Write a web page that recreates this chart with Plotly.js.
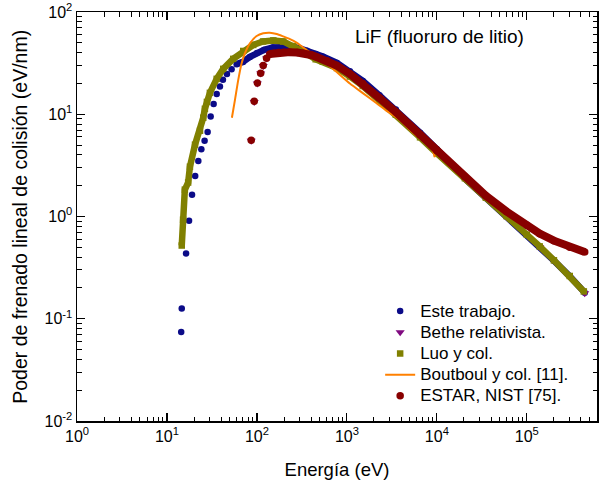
<!DOCTYPE html>
<html>
<head>
<meta charset="utf-8">
<script src="https://cdn.plot.ly/plotly-3.0.1.min.js"></script>
<style>html,body{margin:0;padding:0;background:#fff;}#chart{width:599px;height:488px;}</style>
</head>
<body>
<div id="chart"></div>
<script>
// ---- data (energy in eV, stopping power in eV/nm) ----
const blueSparseE = [14.4, 14.6, 16.3, 17.6, 19.0, 20.6, 22.3, 24.1, 26.2, 28.3, 30.6, 33.0, 35.7, 38.8, 41.9, 46.4, 52.3];
const blueSparseS = [0.074, 0.126, 0.435, 0.91, 1.63, 2.49, 3.49, 4.54, 5.5, 6.7, 9.5, 12.6, 15.8, 18.7, 21.7, 24.8, 27.6];
const blueE = [59.5, 70, 83.6, 100, 120, 150, 194, 251, 300, 359, 450, 541, 774, 1080, 1500, 2300, 3500, 6500, 1.0e4, 2.05e4, 3.5e4, 5.95e4, 1.0e5, 1.39e5, 2.0e5, 3.0e5, 4.4e5];
const blueS = [30.9, 32.5, 36.4, 39.8, 42.6, 45.0, 46.0, 45.6, 44.0, 41.8, 38.8, 36.6, 31.8, 26.3, 21.2, 15.3, 11.1, 6.6, 4.55, 2.35, 1.52, 1.0, 0.66, 0.505, 0.37, 0.26, 0.18];

const betheE = [86.4, 93.3, 101, 110, 117.5, 128, 139, 175, 233, 324, 461, 769, 1080, 2300, 6500, 2.05e4, 5.95e4, 1.39e5, 4.4e5];
const betheS = [5.5, 13.2, 20.0, 25.0, 29.7, 35.0, 38.6, 40.0, 40.3, 39.5, 36.2, 29.8, 24.6, 14.3, 6.2, 2.33, 0.99, 0.50, 0.178];

const oliveE = [14.6, 15.1, 15.8, 17.2, 18.0, 20.5, 23.3, 25.3, 26.4, 27.8, 30.0, 35.7, 42.2, 54.5, 70.4, 90.9, 117, 152, 196, 253, 327, 450, 541, 774, 1080, 1500, 2300, 3500, 6500, 1.0e4, 2.05e4, 3.5e4, 5.95e4, 1.0e5, 1.39e5, 2.0e5, 3.0e5, 4.3e5];
const oliveS = [0.52, 0.93, 1.83, 2.15, 3.07, 5.04, 6.9, 9.25, 11.3, 13.2, 16.2, 22.2, 27.8, 34.8, 41.6, 47.6, 51.5, 52.7, 51.5, 46.5, 41.0, 34.5, 32.6, 28.3, 23.4, 18.9, 13.6, 9.9, 5.95, 4.15, 2.37, 1.53, 1.01, 0.665, 0.51, 0.373, 0.262, 0.185];

const boutE = [52.7, 57, 62, 67.6, 73.6, 83.6, 99.3, 117.5, 139, 166, 196, 233, 276, 327, 647, 1080, 1518, 2138, 2762, 3882, 5455, 7043, 8356, 9100, 9500];
const boutS = [9.25, 13.8, 21.7, 31.6, 39.5, 49.5, 58.3, 62.0, 62.8, 61.0, 57.7, 54.2, 50.1, 45.0, 29.5, 20.0, 16.0, 12.8, 10.8, 8.8, 6.6, 5.5, 4.8, 4.3, 3.8];

const estarSparseE = [86.4, 93.3, 101, 110, 117.5, 128];
const estarSparseS = [5.58, 13.4, 20.2, 25.2, 29.9, 35.3];
const estarE = [139, 155, 175, 200, 233, 280, 324, 400, 461, 600, 769, 1080, 1500, 2300, 3500, 6500, 1.0e4, 2.05e4, 3.5e4, 5.95e4, 1.0e5, 1.39e5, 2.0e5, 3.0e5, 4.4e5];
const estarS = [38.9, 39.6, 40.2, 40.5, 40.5, 40.2, 39.6, 38.0, 36.3, 33.3, 30.0, 24.8, 20.0, 14.4, 10.5, 6.3, 4.4, 2.45, 1.60, 1.12, 0.82, 0.68, 0.58, 0.50, 0.45];

const xTickVals = [1, 10, 100, 1000, 10000, 100000];
const xTickText = ['10<sup>0</sup>', '10<sup>1</sup>', '10<sup>2</sup>', '10<sup>3</sup>', '10<sup>4</sup>', '10<sup>5</sup>'];
const yTickVals = [0.01, 0.1, 1, 10, 100];
const yTickText = ['10<sup>-2</sup>', '10<sup>-1</sup>', '10<sup>0</sup>', '10<sup>1</sup>', '10<sup>2</sup>'];

const names = ['Este trabajo.', 'Bethe relativista.', 'Luo y col.', 'Boutboul y col. [11].', 'ESTAR, NIST [75].'];
const xTitle = 'Energía (eV)';
const yTitle = 'Poder de frenado lineal de colisión (eV/nm)';
const panelLabel = 'LiF (fluoruro de litio)';

// ---- colours / styles ----
const cBlue = '#0b0b88', cPurple = '#800a80', cOlive = '#808000', cOrange = '#ff8000', cRed = '#880000';
const FONT = 'Liberation Sans, Arial, sans-serif';
const legName = s => '<span style="font-size:17px">' + s + '</span>';

function minorVals(lo, hi) {
  const v = [];
  for (let d = lo; d < hi; d++) for (let k = 2; k <= 9; k++) v.push(k * Math.pow(10, d));
  return v;
}

const traces = [
  {x: blueE, y: blueS, mode: 'lines', line: {color: cBlue, width: 6.5}, showlegend: false, hoverinfo: 'skip'},
  {x: blueSparseE.concat(blueE), y: blueSparseS.concat(blueS), mode: 'markers', name: legName(names[0]),
   marker: {symbol: 'circle', size: 6.5, color: cBlue}},
  {x: betheE, y: betheS, mode: 'markers', name: legName(names[1]),
   marker: {symbol: 'triangle-down', size: 8, color: cPurple}},
  {x: oliveE, y: oliveS, mode: 'lines', line: {color: cOlive, width: 6.5}, showlegend: false, hoverinfo: 'skip'},
  {x: oliveE, y: oliveS, mode: 'markers', name: legName(names[2]),
   marker: {symbol: 'square', size: 6.5, color: cOlive}},
  {x: boutE, y: boutS, mode: 'lines', name: legName(names[3]), line: {color: cOrange, width: 2, shape: 'spline', smoothing: 0.6}},
  {x: estarE, y: estarS, mode: 'lines', line: {color: cRed, width: 8}, showlegend: false, hoverinfo: 'skip'},
  {x: estarSparseE.concat(estarE), y: estarSparseS.concat(estarS), mode: 'markers', name: legName(names[4]),
   marker: {symbol: 'circle', size: 7.5, color: cRed}}
];

const axisCommon = {
  type: 'log', showgrid: false, zeroline: false, showline: true, linecolor: '#000', linewidth: 1.5,
  mirror: 'allticks', ticks: 'inside', ticklen: 8, tickwidth: 1.2, tickcolor: '#000',
  tickfont: {family: FONT, size: 16, color: '#000'},
  tickmode: 'array'
};

const layout = {
  width: 599, height: 488,
  margin: {l: 77, r: 2, t: 12, b: 67},
  paper_bgcolor: '#fff', plot_bgcolor: '#fff',
  font: {family: FONT, color: '#000'},
  showlegend: true,
  legend: {x: 0.583, y: 0.307, xanchor: 'left', yanchor: 'top', bgcolor: 'rgba(0,0,0,0)',
           font: {size: 14, family: FONT}, tracegroupgap: 0},
  xaxis: Object.assign({}, axisCommon, {
    range: [0, 5.78], tickvals: xTickVals, ticktext: xTickText,
    minor: {tickmode: 'array', tickvals: minorVals(0, 6), ticks: 'inside', ticklen: 4.5, tickwidth: 1, tickcolor: '#000', showgrid: false},
    title: {text: xTitle, font: {size: 18.5}, standoff: 19}
  }),
  yaxis: Object.assign({}, axisCommon, {
    range: [-2, 2], tickvals: yTickVals, ticktext: yTickText,
    minor: {tickmode: 'array', tickvals: minorVals(-2, 2), ticks: 'inside', ticklen: 4.5, tickwidth: 1, tickcolor: '#000', showgrid: false}
  }),
  annotations: [
    {xref: 'paper', yref: 'paper', x: 0.697, y: 0.941, xanchor: 'center', yanchor: 'middle',
     text: panelLabel, showarrow: false, font: {size: 19, color: '#000'}},
    {xref: 'paper', yref: 'paper', x: -0.111, y: 0.5, xanchor: 'center', yanchor: 'middle', textangle: -90,
     text: yTitle, showarrow: false, font: {size: 19.5, color: '#000'}}
  ]
};

Plotly.newPlot('chart', traces, layout, {displayModeBar: false, staticPlot: true});
</script>
</body>
</html>
